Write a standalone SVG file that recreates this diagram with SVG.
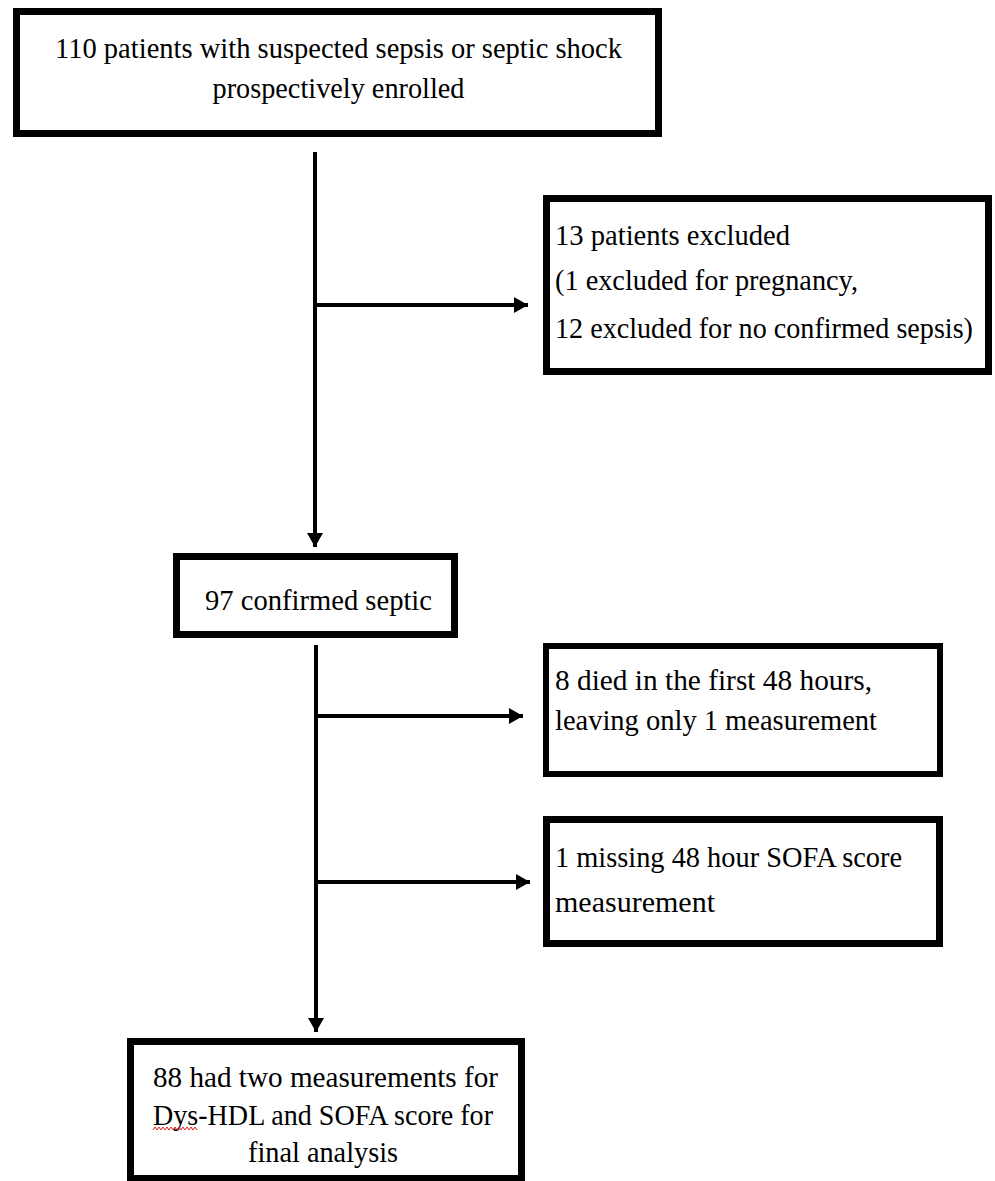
<svg xmlns="http://www.w3.org/2000/svg" width="995" height="1181" viewBox="0 0 995 1181">
<style>
.box{fill:#fff;stroke:#000}
.t{font-family:"Liberation Serif","DejaVu Serif",serif;font-size:29px;fill:#000}
.c{text-anchor:middle}
.ln{stroke:#000;stroke-width:4;fill:none}
</style>
<defs>
<marker id="ah" markerUnits="userSpaceOnUse" markerWidth="16" markerHeight="18" refX="14" refY="9" orient="auto">
<path d="M0,1 L14,9 L0,17 Z" fill="#000"/>
</marker>
</defs>
<rect width="995" height="1181" fill="#fff"/>
<g id="connectors">
<line class="ln" x1="315" y1="152" x2="315" y2="547" marker-end="url(#ah)"/>
<line class="ln" x1="315" y1="305" x2="528" y2="305" marker-end="url(#ah)"/>
<line class="ln" x1="316" y1="645" x2="316" y2="1032" marker-end="url(#ah)"/>
<line class="ln" x1="316" y1="716" x2="523" y2="716" marker-end="url(#ah)"/>
<line class="ln" x1="316" y1="882" x2="530" y2="882" marker-end="url(#ah)"/>
</g>
<g id="enrolled">
<rect class="box" x="16.5" y="11.5" width="642" height="122" stroke-width="7"/>
<text class="t c" x="338.5" y="58" textLength="567" lengthAdjust="spacingAndGlyphs">110 patients with suspected sepsis or septic shock</text>
<text class="t c" x="338.5" y="98" textLength="252" lengthAdjust="spacingAndGlyphs">prospectively enrolled</text>
</g>
<g id="excluded">
<rect class="box" x="546.5" y="198.5" width="442" height="173" stroke-width="7"/>
<text class="t" x="555" y="245" textLength="235" lengthAdjust="spacingAndGlyphs">13 patients excluded</text>
<text class="t" x="555" y="290" textLength="303" lengthAdjust="spacingAndGlyphs">(1 excluded for pregnancy,</text>
<text class="t" x="555" y="338" textLength="418" lengthAdjust="spacingAndGlyphs">12 excluded for no confirmed sepsis)</text>
</g>
<g id="confirmed">
<rect class="box" x="176.5" y="556.5" width="278" height="78" stroke-width="7"/>
<text class="t" x="205" y="610" textLength="227" lengthAdjust="spacingAndGlyphs">97 confirmed septic</text>
</g>
<g id="died">
<rect class="box" x="546" y="646" width="394" height="128" stroke-width="6"/>
<text class="t" x="555" y="690" textLength="317" lengthAdjust="spacingAndGlyphs">8 died in the first 48 hours,</text>
<text class="t" x="555" y="730" textLength="322" lengthAdjust="spacingAndGlyphs">leaving only 1 measurement</text>
</g>
<g id="missing">
<rect class="box" x="546.5" y="819.5" width="393" height="124" stroke-width="7"/>
<text class="t" x="555" y="867" textLength="347" lengthAdjust="spacingAndGlyphs">1 missing 48 hour SOFA score</text>
<text class="t" x="555" y="912" textLength="160" lengthAdjust="spacingAndGlyphs">measurement</text>
</g>
<g id="final">
<rect class="box" x="130.5" y="1041.5" width="391" height="137" stroke-width="7"/>
<text class="t" x="153" y="1087" textLength="345" lengthAdjust="spacingAndGlyphs">88 had two measurements for</text>
<text class="t" x="153" y="1125" textLength="340" lengthAdjust="spacingAndGlyphs">Dys-HDL and SOFA score for</text>
<text class="t" x="248" y="1162" textLength="150" lengthAdjust="spacingAndGlyphs">final analysis</text>
<polyline points="153,1130 155,1127 157,1130 159,1127 161,1130 163,1127 165,1130 167,1127 169,1130 171,1127 173,1130 175,1127 177,1130 179,1127 181,1130 183,1127 185,1130 187,1127 189,1130 191,1127 193,1130 195,1127 197,1130" fill="none" stroke="#e02020" stroke-width="1"/>
</g>
</svg>
